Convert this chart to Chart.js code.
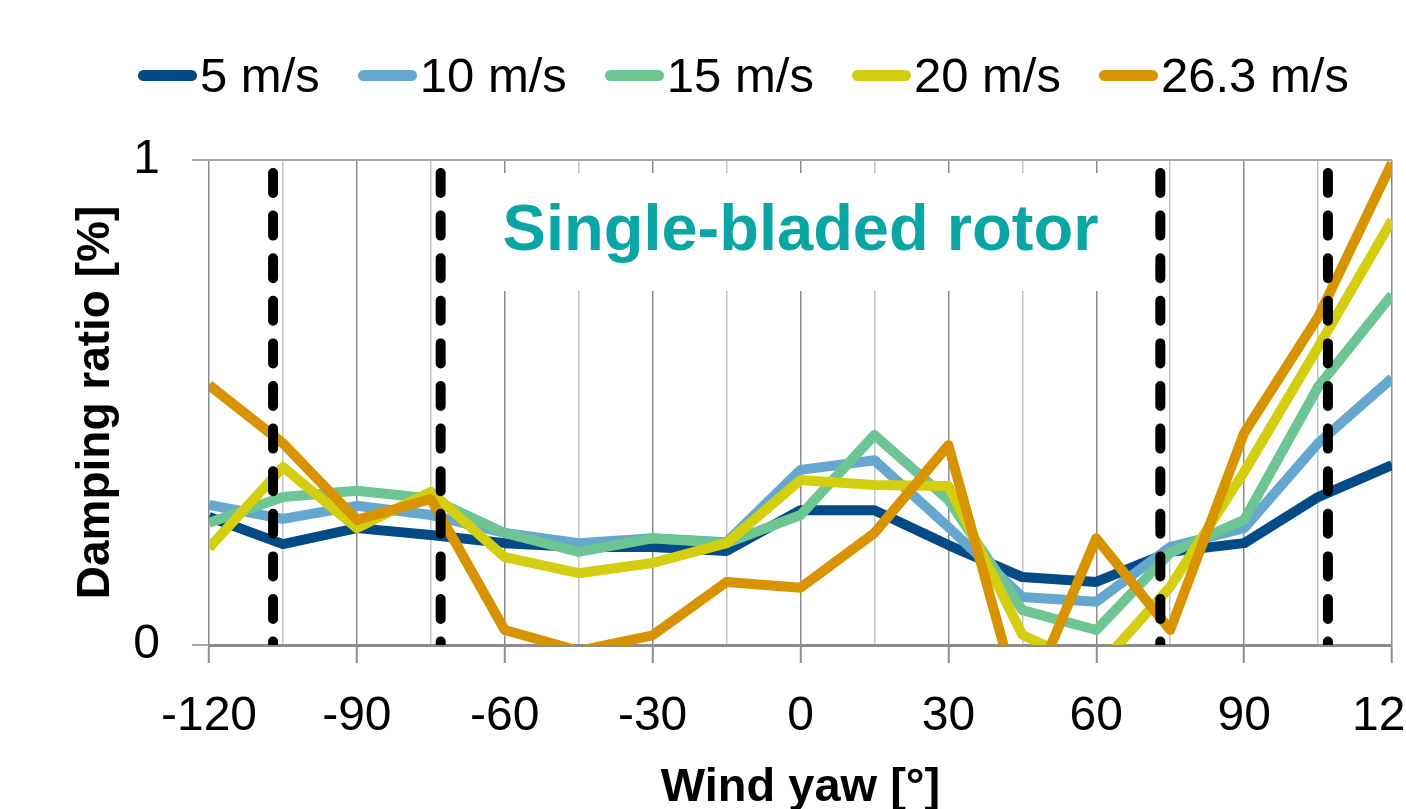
<!DOCTYPE html>
<html>
<head>
<meta charset="utf-8">
<script src="https://cdn.jsdelivr.net/npm/chart.js@4.4.1/dist/chart.umd.min.js"></script>
<style>
  html, body { margin: 0; padding: 0; background: #fff; overflow: hidden; }
  #wrap { position: relative; width: 1406px; height: 809px; }
  #legend {
    position: absolute; left: 138px; top: 51px;
    display: flex; align-items: center;
    font-family: "Liberation Sans", Arial, sans-serif;
    font-size: 49px; line-height: 49px; color: #000; white-space: nowrap;
  }
  .item { display: flex; align-items: center; margin-right: 38px; }
  .swatch { width: 59px; height: 11px; border-radius: 5.5px; margin-right: 3px; }
</style>
</head>
<body>
<div id="wrap">
  <canvas id="yawChart" width="1406" height="809"></canvas>
  <div id="legend"></div>
</div>
<script>
// wind yaw angles [deg]
const yaw = [-120, -105, -90, -75, -60, -45, -30, -15, 0, 15, 30, 45, 60, 75, 90, 105, 120];

// damping ratio per wind speed
const speed5 = [0.264, 0.208, 0.241, 0.227, 0.21, 0.202, 0.202, 0.194, 0.278, 0.278, 0.206, 0.14, 0.13, 0.192, 0.21, 0.305, 0.371];
const speed10 = [0.289, 0.26, 0.287, 0.268, 0.231, 0.21, 0.22, 0.212, 0.361, 0.381, 0.243, 0.099, 0.089, 0.202, 0.241, 0.416, 0.55];
const speed15 = [0.252, 0.305, 0.318, 0.302, 0.231, 0.192, 0.22, 0.21, 0.268, 0.433, 0.299, 0.072, 0.031, 0.19, 0.258, 0.532, 0.722];
const speed20 = [0.2, 0.367, 0.241, 0.316, 0.181, 0.148, 0.169, 0.21, 0.34, 0.33, 0.328, 0.021, -0.05, 0.12, 0.357, 0.614, 0.876];
const speed26 = [0.536, 0.416, 0.258, 0.301, 0.031, -0.012, 0.02, 0.13, 0.118, 0.231, 0.412, -0.14, 0.22, 0.031, 0.437, 0.676, 0.994];

const seriesNames = ["5 m/s", "10 m/s", "15 m/s", "20 m/s", "26.3 m/s"];
const seriesColors = ["#024b86", "#65a7cf", "#6cc592", "#d3ce10", "#d89400"];
const seriesValues = [speed5, speed10, speed15, speed20, speed26];

// dashed reference yaw angles
const markerYaw = [-107, -73, 73, 107];

const labelText = "Single-bladed rotor";
const labelYaw = 0;
const labelRatio = 0.8515;

const fontFamily = '"Liberation Sans", Arial, sans-serif';

const datasets = seriesValues.map(function (vals, i) {
    return {
        label: seriesNames[i],
        data: vals.map(function (v, j) { return { x: yaw[j], y: v }; }),
        borderColor: seriesColors[i],
        backgroundColor: seriesColors[i],
        borderWidth: 10,
        pointRadius: 0,
        tension: 0,
        borderJoinStyle: "round",
        clip: 0,
        order: 10 - i
    };
});

markerYaw.forEach(function (d) {
    datasets.push({
        label: "",
        data: [{ x: d, y: 1 }, { x: d, y: 0 }],
        borderColor: "#000",
        borderWidth: 10,
        borderDash: [20, 22.6],
        borderDashOffset: 29.6,
        borderCapStyle: "round",
        pointRadius: 0,
        clip: 0,
        order: 0
    });
});

const rotorLabel = {
    id: "rotorLabel",
    beforeDatasetsDraw(chart) {
        const ctx = chart.ctx;
        const cx = chart.scales.x.getPixelForValue(labelYaw);
        const cy = chart.scales.y.getPixelForValue(labelRatio);
        ctx.save();
        ctx.font = "bold 65px " + fontFamily;
        const w = ctx.measureText(labelText).width;
        ctx.fillStyle = "#fff";
        ctx.fillRect(cx - w / 2 - 20, cy - 59, w + 40, 118);
        ctx.fillStyle = "#0aa6a6";
        ctx.textAlign = "center";
        ctx.textBaseline = "middle";
        ctx.fillText(labelText, cx, cy);
        ctx.restore();
    }
};

document.addEventListener("DOMContentLoaded", function () {
    const ctx = document.getElementById("yawChart");
    const chart = new Chart(ctx, {
        type: "line",
        data: { datasets: datasets },
        options: {
            responsive: false,
            animation: false,
            layout: { padding: { top: 160, right: 14, left: 0, bottom: 0 } },
            plugins: {
                legend: { display: false },
                tooltip: { enabled: false }
            },
            scales: {
                x: {
                    type: "linear",
                    min: -120,
                    max: 120,
                    afterFit: function (s) { s.paddingRight = 0; s.paddingLeft = 0; s.height = 164; },
                    ticks: {
                        stepSize: 15,
                        autoSkip: false,
                        maxRotation: 0,
                        padding: 25,
                        color: "#000",
                        font: { family: fontFamily, size: 48 },
                        callback: function (v) { return v % 30 === 0 ? v : ""; }
                    },
                    grid: {
                        color: function (c) { return c.tick && c.tick.value % 30 === 0 ? "#8c8c8c" : "#c4c4c4"; },
                        lineWidth: 1.5,
                        tickLength: 18,
                        tickWidth: 2,
                        tickColor: function (c) { return c.tick && c.tick.value % 30 === 0 ? "#8c8c8c" : "rgba(0,0,0,0)"; }
                    },
                    border: { display: true, color: "#8c8c8c", width: 3 },
                    title: {
                        display: true,
                        text: "Wind yaw [°]",
                        color: "#000",
                        font: { family: fontFamily, size: 47, weight: "bold" },
                        padding: { top: 15, bottom: -7 }
                    }
                },
                y: {
                    min: 0,
                    max: 1,
                    afterFit: function (s) { s.width = 209; },
                    ticks: {
                        stepSize: 1,
                        padding: 32,
                        color: "#000",
                        font: { family: fontFamily, size: 48 }
                    },
                    grid: { color: "#a6a6a6", lineWidth: 2, tickLength: 17 },
                    border: { display: false },
                    title: {
                        display: true,
                        text: "Damping ratio [%]",
                        color: "#000",
                        font: { family: fontFamily, size: 46, weight: "bold" },
                        padding: { top: 69, bottom: 0 }
                    }
                }
            }
        },
        plugins: [rotorLabel]
    });

    // html legend from the series
    const legend = document.getElementById("legend");
    seriesNames.forEach(function (name, i) {
        const item = document.createElement("div");
        item.className = "item";
        const sw = document.createElement("span");
        sw.className = "swatch";
        sw.style.background = seriesColors[i];
        const txt = document.createElement("span");
        txt.textContent = name;
        item.appendChild(sw);
        item.appendChild(txt);
        legend.appendChild(item);
    });
});
</script>
</body>
</html>
